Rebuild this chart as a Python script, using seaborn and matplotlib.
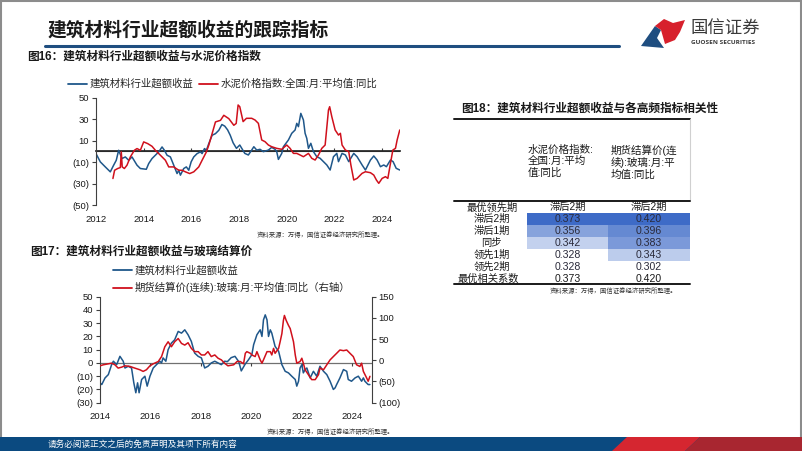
import numpy as np
import pandas as pd
import seaborn as sns
import matplotlib.pyplot as plt
from matplotlib.colors import LinearSegmentedColormap
from matplotlib.lines import Line2D
from matplotlib.patches import Rectangle, Polygon
from matplotlib.ticker import FuncFormatter

# ---- 图16 数据 (年份, 值) ----
excess16_t = [2012.00, 2012.18, 2012.39, 2012.60, 2012.74, 2012.85, 2012.95, 2013.09, 2013.23, 2013.37,
              2013.51, 2013.72, 2013.86, 2014.11, 2014.21, 2014.35, 2014.49, 2014.63, 2014.77, 2014.87,
              2014.98, 2015.12, 2015.26, 2015.40, 2015.47, 2015.54, 2015.68, 2015.79, 2015.89, 2015.99,
              2016.10, 2016.24, 2016.38, 2016.45, 2016.55, 2016.63, 2016.73, 2016.87, 2017.01, 2017.15,
              2017.28, 2017.40, 2017.52, 2017.63, 2017.75, 2017.89, 2018.03, 2018.24, 2018.39, 2018.53,
              2018.62, 2018.74, 2018.88, 2019.02, 2019.23, 2019.37, 2019.51, 2019.58, 2019.65, 2019.79,
              2019.86, 2020.07, 2020.21, 2020.35, 2020.42, 2020.49, 2020.59, 2020.70, 2020.77, 2020.84,
              2020.91, 2021.01, 2021.12, 2021.26, 2021.40, 2021.54, 2021.68, 2021.82, 2021.96, 2022.10,
              2022.17, 2022.32, 2022.46, 2022.60, 2022.81, 2022.95, 2023.16, 2023.30, 2023.37, 2023.51,
              2023.65, 2023.79, 2023.93, 2024.07, 2024.18, 2024.35, 2024.46, 2024.59, 2024.74]
excess16_v = [-2.1, -9.8, -14.5, -19.1, -12.9, -8.3, 1.0, -6.7, -5.2, -8.3,
              -5.2, -12.9, -16.0, -16.7, -11.4, -6.7, -3.6, -0.5, 4.1, 1.0,
              -3.6, -5.2, -12.9, -20.7, -17.6, -22.2, -16.0, -14.5, -17.6, -9.8,
              -5.2, -2.1, -0.5, -2.1, 2.6, 1.0, 7.2, 15.0, 16.5, 19.6,
              25.0, 23.5, 20.0, 15.0, 8.0, 2.8, 5.9, -1.9, -3.4, 1.2,
              4.3, 1.2, 1.9, -0.3, 1.2, 3.7, 1.9, -0.3, -7.5, -1.9,
              4.3, 10.6, 16.8, 19.9, 26.1, 23.0, 35.4, 29.2, 16.8, 12.1,
              2.8, 7.5, -0.3, -5.0, -6.5, -9.6, -12.7, -17.4, -5.0, -1.9,
              -9.6, -1.9, -3.4, -9.6, -1.9, -5.0, -12.7, -17.4, -14.3, -8.1,
              -4.3, -8.1, -14.3, -12.7, -14.3, -8.1, -9.6, -15.8, -17.4]
cement_t = [2012.71, 2012.78, 2012.91, 2013.02, 2013.06, 2013.10, 2013.19, 2013.30, 2013.44, 2013.61,
            2013.72, 2013.86, 2014.00, 2014.17, 2014.35, 2014.49, 2014.70, 2014.91, 2015.05, 2015.26,
            2015.47, 2015.61, 2015.75, 2015.93, 2016.10, 2016.31, 2016.45, 2016.63, 2016.73, 2016.87,
            2017.01, 2017.22, 2017.36, 2017.57, 2017.78, 2017.88, 2017.96, 2018.03, 2018.17, 2018.31,
            2018.53, 2018.67, 2018.81, 2018.95, 2019.09, 2019.23, 2019.37, 2019.58, 2019.79, 2020.00,
            2020.14, 2020.28, 2020.42, 2020.56, 2020.70, 2020.91, 2021.05, 2021.19, 2021.33, 2021.47,
            2021.61, 2021.75, 2021.80, 2021.89, 2022.03, 2022.17, 2022.25, 2022.32, 2022.46, 2022.60,
            2022.69, 2022.81, 2022.95, 2023.16, 2023.30, 2023.51, 2023.65, 2023.76, 2023.86, 2024.00,
            2024.14, 2024.24, 2024.35, 2024.45, 2024.56, 2024.63, 2024.74]
cement_v = [-25.3, -17.6, -16.0, -15.1, -0.5, -14.5, -16.0, -12.9, -5.2, 1.0,
            2.6, 1.0, 8.8, 7.2, 4.7, 1.0, -3.6, -8.3, -14.5, -14.5,
            -17.6, -17.6, -19.1, -20.7, -19.1, -14.5, -8.3, -0.5, 5.7, 16.5,
            27.4, 28.9, 33.6, 30.5, 24.3, 26.0, 43.2, 41.6, 27.7, 30.8,
            30.8, 29.2, 26.1, 10.6, 9.0, 5.9, 4.3, 2.8, 1.9, 5.9,
            2.8, -1.9, -1.9, -3.4, -5.0, -1.9, -6.5, -8.1, -3.4, 2.8,
            5.9, 38.5, 41.6, 32.3, 19.9, 15.2, 16.8, 5.9, 1.2, -0.3,
            -12.7, -26.7, -25.2, -20.5, -19.0, -19.9, -22.1, -26.7, -29.8, -25.2,
            -23.6, -25.2, -11.2, 1.2, 2.8, 10.6, 19.9]

# ---- 图17 数据 ----
excess17_t = [2014.00, 2014.07, 2014.20, 2014.33, 2014.46, 2014.53, 2014.66, 2014.79, 2014.92, 2014.99,
              2015.12, 2015.25, 2015.34, 2015.42, 2015.49, 2015.55, 2015.65, 2015.78, 2015.87, 2015.98,
              2016.11, 2016.24, 2016.37, 2016.44, 2016.50, 2016.61, 2016.70, 2016.83, 2016.96, 2017.10,
              2017.23, 2017.36, 2017.49, 2017.62, 2017.75, 2017.89, 2018.02, 2018.15, 2018.28, 2018.41,
              2018.55, 2018.68, 2018.81, 2018.94, 2019.05, 2019.20, 2019.35, 2019.50, 2019.60, 2019.75,
              2019.89, 2020.02, 2020.09, 2020.22, 2020.35, 2020.42, 2020.48, 2020.55, 2020.62, 2020.68,
              2020.75, 2020.81, 2020.94, 2021.08, 2021.21, 2021.34, 2021.47, 2021.60, 2021.74, 2021.80,
              2021.87, 2021.93, 2022.00, 2022.06, 2022.13, 2022.20, 2022.33, 2022.46, 2022.59, 2022.72,
              2022.86, 2022.99, 2023.12, 2023.25, 2023.32, 2023.38, 2023.51, 2023.65, 2023.78, 2023.84,
              2023.97, 2024.11, 2024.24, 2024.37, 2024.44, 2024.50, 2024.63, 2024.70]
excess17_v = [-15.0, -16.3, -11.3, -8.8, -1.3, 1.3, -1.3, 5.0, 1.3, -3.8,
              -2.5, -3.8, -15.0, -22.5, -15.0, -22.5, -12.5, -10.0, -17.5, -10.0,
              -3.8, -1.3, 1.3, 0.0, 3.8, 1.3, 10.0, 15.0, 17.5, 23.8,
              22.5, 25.0, 21.3, 16.3, 7.5, 5.0, 3.8, -3.8, -2.5, 0.0,
              1.3, 0.0, -1.3, 1.3, 1.0, 4.0, 5.0, 1.0, -6.0, -1.0,
              2.5, 6.3, 13.8, 21.3, 25.0, 20.0, 32.5, 36.3, 32.5, 20.0,
              25.0, 22.5, 12.5, 8.8, -1.3, -6.3, -7.5, -10.0, -12.5, -17.5,
              -13.8, -3.8, -1.3, -7.5, -5.0, -3.8, -11.3, -6.3, -10.0, -2.5,
              -6.3, -8.8, -13.8, -20.0, -18.8, -16.3, -11.3, -5.0, -6.3, -12.5,
              -13.8, -11.3, -10.0, -13.8, -11.3, -13.8, -16.3, -16.3]
glass_t = [2014.00, 2014.13, 2014.33, 2014.46, 2014.59, 2014.72, 2014.86, 2014.99, 2015.19, 2015.38,
           2015.58, 2015.71, 2015.84, 2015.98, 2016.11, 2016.31, 2016.44, 2016.57, 2016.70, 2016.83,
           2016.96, 2017.10, 2017.23, 2017.36, 2017.49, 2017.62, 2017.75, 2017.89, 2018.02, 2018.15,
           2018.28, 2018.41, 2018.55, 2018.68, 2018.81, 2018.94, 2019.07, 2019.30, 2019.43, 2019.56,
           2019.69, 2019.76, 2019.82, 2019.96, 2020.02, 2020.15, 2020.22, 2020.35, 2020.42, 2020.48,
           2020.62, 2020.75, 2020.81, 2020.88, 2020.94, 2021.08, 2021.14, 2021.21, 2021.27, 2021.31,
           2021.38, 2021.47, 2021.54, 2021.67, 2021.74, 2021.80, 2021.93, 2022.00, 2022.06, 2022.13,
           2022.26, 2022.39, 2022.53, 2022.66, 2022.72, 2022.86, 2022.99, 2023.12, 2023.25, 2023.38,
           2023.51, 2023.65, 2023.78, 2023.91, 2024.04, 2024.17, 2024.30, 2024.37, 2024.44, 2024.57,
           2024.63, 2024.70]
glass_v = [-13.0, -10.6, -8.3, -6.8, -10.6, -18.4, -16.1, -13.0, -14.5, -18.4,
           -22.3, -26.2, -22.3, -13.0, -8.3, -2.9, 8.8, 32.0, 43.7, 32.0,
           43.7, 51.4, 39.8, 35.9, 41.4, 28.2, 20.4, 20.4, 12.6, 12.6,
           20.4, 8.8, 12.6, 4.9, 1.0, -6.8, -13.0, -10.6, -2.9, -2.9,
           -8.3, 16.5, 20.4, 16.5, 12.6, 8.8, 20.4, 1.0, -6.8, 1.0,
           20.4, 20.4, 12.6, 28.2, 16.5, 28.2, 43.7, 63.1, 94.1, 105.8,
           94.1, 82.5, 74.7, 43.7, 12.6, -6.8, -2.9, 4.9, -6.8, -22.3,
           -33.9, -45.6, -45.6, -33.9, -18.4, -22.3, -10.6, 1.0, 8.8, 16.5,
           24.3, 22.7, 24.3, 16.5, 8.8, -10.6, -14.5, -6.8, -26.2, -41.7,
           -49.4, -37.8]

# ---- 图18 数据 ----
tbl_rows = ['滞后2期', '滞后1期', '同步', '领先1期', '领先2期']
tbl_cement = [0.373, 0.356, 0.342, 0.328, 0.328]
tbl_glass = [0.420, 0.396, 0.383, 0.343, 0.302]
tbl_heads = ['水泥价格指数:\n全国:月:平均\n值:同比', '期货结算价(连\n续):玻璃:月:平\n均值:同比']

lbl_excess = '建筑材料行业超额收益'
lbl_cement = '水泥价格指数:全国:月:平均值:同比'
lbl_glass = '期货结算价(连续):玻璃:月:平均值:同比（右轴）'
src_text = '资料来源：万得，国信证券经济研究所整理。'

BLUE = '#1f578a'
RED = '#d0101c'
AXC = '#404040'

sns.set_theme(style='white')
plt.rcParams['font.family'] = ['Liberation Sans', 'Noto Sans CJK SC', 'DejaVu Sans']
plt.rcParams['axes.unicode_minus'] = False

W, H = 802, 451
fig = plt.figure(figsize=(W / 100, H / 100), dpi=100)


def fx(x):
    return x / W


def fy(y):
    return 1 - y / H


def paren(v, pos):
    return f'({abs(v):.0f})' if v < 0 else f'{v:.0f}'


def hline(x0, x1, y, color, lw):
    fig.add_artist(Line2D([fx(x0), fx(x1)], [fy(y), fy(y)], color=color, lw=lw,
                          transform=fig.transFigure))


# ---- 页面装饰 ----
fig.add_artist(Rectangle((0.001, 0.002), 0.998, 0.996, transform=fig.transFigure,
                         fill=False, edgecolor='#8c8c8c', lw=1.5))
fig.text(fx(48), fy(30), '建筑材料行业超额收益的跟踪指标', fontsize=13.5, fontweight='bold',
         color='#1a1a1a', va='center')
hline(45, 619, 46, '#1f4e80', 2.2)
fig.add_artist(Polygon([(fx(641), fy(46)), (fx(655), fy(26)), (fx(661), fy(30)), (fx(657), fy(38)),
                        (fx(664), fy(48))], closed=True, transform=fig.transFigure,
                       facecolor='#1f4e80', edgecolor='none'))
fig.add_artist(Polygon([(fx(655), fy(26)), (fx(664), fy(19)), (fx(673), fy(23)), (fx(685), fy(20)),
                        (fx(680), fy(32)), (fx(675), fy(40)), (fx(665), fy(44)), (fx(661), fy(30))],
                       closed=True, transform=fig.transFigure, facecolor='#d7202c', edgecolor='none'))
fig.text(fx(690), fy(29), '国信证券', fontsize=12.5, color='#3a3a3a', va='center')
fig.text(fx(691), fy(43), 'GUOSEN SECURITIES', fontsize=4.6, fontweight='bold', color='#3a3a3a',
         va='center', family='Open Sans')

fig.add_artist(Rectangle((0, 0), 1, 14 / H, transform=fig.transFigure, facecolor='#0b4a80',
                         edgecolor='none'))
fig.add_artist(Polygon([(fx(612), fy(451)), (fx(627), fy(437)), (fx(700), fy(437)), (fx(685), fy(451))],
                       closed=True, transform=fig.transFigure, facecolor='#d52630', edgecolor='none'))
fig.add_artist(Polygon([(fx(685), fy(451)), (fx(700), fy(437)), (fx(802), fy(437)), (fx(802), fy(451))],
                       closed=True, transform=fig.transFigure, facecolor='#a82630', edgecolor='none'))
fig.text(fx(48), fy(444), '请务必阅读正文之后的免责声明及其项下所有内容', fontsize=6.2,
         color='white', va='center')

# ---- 图16 ----
fig.text(fx(27), fy(57), '图16：建筑材料行业超额收益与水泥价格指数', fontsize=8.4, fontweight='bold',
         color='#1a1a1a', va='center')
ax1 = fig.add_axes([fx(96), fy(205), (400 - 96) / W, (205 - 97.7) / H])
sns.lineplot(x=excess16_t, y=excess16_v, ax=ax1, color=BLUE, lw=1.1, sort=False, estimator=None)
sns.lineplot(x=cement_t, y=cement_v, ax=ax1, color=RED, lw=1.1, sort=False, estimator=None)
ax1.axhline(0, color=AXC, lw=0.8, zorder=0)
ax1.set_xlim(2012, 2024.75)
ax1.set_ylim(-50, 50)
ax1.set_yticks([-50, -30, -10, 10, 30, 50])
ax1.set_xticks(range(2012, 2025, 2))
ax1.yaxis.set_major_formatter(FuncFormatter(paren))
for s in ['top', 'right', 'bottom']:
    ax1.spines[s].set_visible(False)
ax1.spines['left'].set_color(AXC)
ax1.spines['left'].set_linewidth(0.8)
ax1.tick_params(axis='y', left=True, length=3, width=0.8, color=AXC, pad=2, labelsize=6.8,
                labelcolor='#1a1a1a')
ax1.tick_params(axis='x', bottom=False, length=0, pad=7, labelsize=6.8, labelcolor='#1a1a1a')
sec1 = ax1.secondary_xaxis(0.5)
sec1.set_xticks(range(2014, 2025, 2))
sec1.set_xticklabels([])
sec1.tick_params(length=2.5, width=0.8, color=AXC, direction='out')
sec1.spines['bottom'].set_visible(False)
fig.legend([Line2D([], [], color=BLUE, lw=1.3), Line2D([], [], color=RED, lw=1.3)],
           [lbl_excess, lbl_cement], loc='center left', bbox_to_anchor=(fx(68), fy(84)),
           bbox_transform=fig.transFigure, ncol=2, frameon=False, fontsize=7.5, handlelength=1.8,
           handletextpad=0.3, columnspacing=0.5, borderpad=0, borderaxespad=0)
fig.text(fx(257), fy(235), src_text, fontsize=4.6, color='#333333', va='center')

# ---- 图17 ----
fig.text(fx(30), fy(251.7), '图17：建筑材料行业超额收益与玻璃结算价', fontsize=8.4, fontweight='bold',
         color='#1a1a1a', va='center')
ax2 = fig.add_axes([fx(100), fy(402.7), (371.7 - 100) / W, (402.7 - 296.7) / H])
ax2r = ax2.twinx()
sns.lineplot(x=excess17_t, y=excess17_v, ax=ax2, color=BLUE, lw=1.1, sort=False, estimator=None)
sns.lineplot(x=glass_t, y=glass_v, ax=ax2r, color=RED, lw=1.1, sort=False, estimator=None)
ax2.axhline(0, color='#707070', lw=0.9, zorder=0)
ax2.set_xlim(2014, 2024.77)
ax2.set_ylim(-30, 50)
ax2r.set_ylim(-100, 150)
ax2.set_yticks(range(-30, 51, 10))
ax2r.set_yticks(range(-100, 151, 50))
ax2.set_xticks(range(2014, 2025, 2))
ax2.yaxis.set_major_formatter(FuncFormatter(paren))
ax2r.yaxis.set_major_formatter(FuncFormatter(paren))
for a in (ax2, ax2r):
    for s in ['top', 'bottom']:
        a.spines[s].set_visible(False)
ax2.spines['right'].set_visible(False)
ax2r.spines['left'].set_visible(False)
ax2.spines['left'].set_color(AXC)
ax2r.spines['right'].set_color(AXC)
ax2.spines['left'].set_linewidth(0.8)
ax2r.spines['right'].set_linewidth(0.8)
ax2.tick_params(axis='y', left=True, length=3, width=0.8, color=AXC, pad=2, labelsize=6.8,
                labelcolor='#1a1a1a')
ax2r.tick_params(axis='y', right=True, length=3, width=0.8, color=AXC, pad=2, labelsize=6.8,
                 labelcolor='#1a1a1a')
ax2.tick_params(axis='x', bottom=False, length=0, pad=6.5, labelsize=6.8, labelcolor='#1a1a1a')
ax2r.tick_params(axis='x', bottom=False, length=0)
ax2.set_ylabel('')
ax2r.set_ylabel('')
sec2 = ax2.secondary_xaxis(0.375)
sec2.set_xticks(range(2016, 2025, 2))
sec2.set_xticklabels([])
sec2.tick_params(length=2.5, width=0.8, color=AXC, direction='out')
sec2.spines['bottom'].set_visible(False)
fig.legend([Line2D([], [], color=BLUE, lw=1.3), Line2D([], [], color=RED, lw=1.3)],
           [lbl_excess, lbl_glass], loc='center left', bbox_to_anchor=(fx(113), fy(279.5)),
           bbox_transform=fig.transFigure, ncol=1, frameon=False, fontsize=7.5, handlelength=1.8,
           handletextpad=0.3, labelspacing=0.6, borderpad=0, borderaxespad=0)
fig.text(fx(267), fy(432), src_text, fontsize=4.6, color='#333333', va='center')

# ---- 图18 表格 ----
fig.text(fx(460.7), fy(109), '图18：建筑材料行业超额收益与各高频指标相关性', fontsize=8.4,
         fontweight='bold', color='#1a1a1a', va='center')
hline(454, 690, 119.3, '#1a1a1a', 1.4)
fig.add_artist(Line2D([fx(690), fx(690)], [fy(119.3), fy(201)], color='#d0d0d0', lw=0.8,
                      transform=fig.transFigure))
fig.text(fx(528), fy(144.5), tbl_heads[0], fontsize=7.6, color='#1a1a1a', va='top', linespacing=1.15)
fig.text(fx(610.7), fy(144.5), tbl_heads[1], fontsize=7.6, color='#1a1a1a', va='top', linespacing=1.15)
hline(454, 690, 201, '#1a1a1a', 1.4)

row_top, row_h = 213.3, 11.88
cmap = LinearSegmentedColormap.from_list('tbl', ['#ffffff', '#3e6bc7'])
for vals, x0, x1 in [(tbl_cement, 526.7, 608.3), (tbl_glass, 608.3, 690)]:
    axh = fig.add_axes([fx(x0), fy(row_top + 5 * row_h), (x1 - x0) / W, 5 * row_h / H])
    sns.heatmap(pd.DataFrame({'v': vals}, index=tbl_rows), ax=axh, cmap=cmap, vmin=min(vals),
                vmax=max(vals), cbar=False, annot=True, fmt='.3f',
                annot_kws={'color': '#2a2a3a', 'fontsize': 7.6},
                xticklabels=False, yticklabels=False)
    axh.set_xlabel('')
    axh.set_ylabel('')
    xc = (x0 + x1) / 2
    fig.text(fx(xc), fy(207.3), tbl_rows[int(np.argmax(vals))], fontsize=7.4, color='#1a1a1a',
             ha='center', va='center')
    fig.text(fx(xc), fy(278.7), f'{max(vals):.3f}', fontsize=7.6, color='#1a1a1a',
             ha='center', va='center')

fig.text(fx(491.7), fy(207.3), '最优领先期', fontsize=7.4, color='#1a1a1a', ha='center', va='center')
for i, name in enumerate(tbl_rows):
    fig.text(fx(491.7), fy(row_top + (i + 0.5) * row_h), name, fontsize=7.4, color='#1a1a1a',
             ha='center', va='center')
fig.text(fx(488), fy(278.7), '最优相关系数', fontsize=7.4, color='#1a1a1a', ha='center', va='center')
hline(454, 690, 284, '#1a1a1a', 1.4)
fig.text(fx(550), fy(291), src_text, fontsize=4.6, color='#333333', va='center')

fig.savefig('out.png', dpi=100)
